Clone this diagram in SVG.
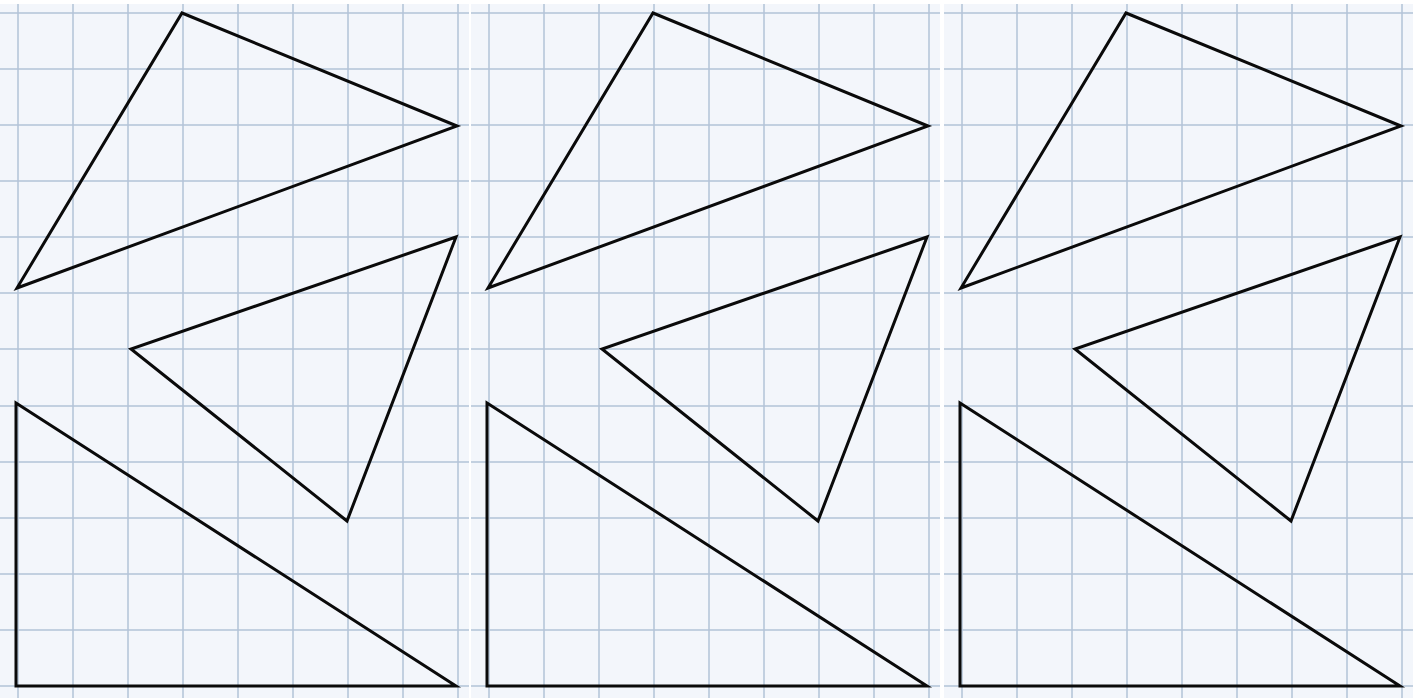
<svg xmlns="http://www.w3.org/2000/svg" xmlns:xlink="http://www.w3.org/1999/xlink" width="1419" height="698" viewBox="0 0 1419 698">
<style>
.paper{fill:#f3f6fb}
.grid{stroke:#b3c3d8;stroke-width:1.5;fill:none}
.tri{fill:none;stroke:#0a0a0a;stroke-width:3;stroke-linejoin:miter}
</style>
<defs>
<g id="panel">
<rect class="paper" x="0" y="4" width="469" height="694"/>
<path class="grid" d="M18,4V698M73,4V698M128,4V698M183,4V698M238,4V698M293,4V698M348,4V698M403,4V698M458,4V698
M0,13H469M0,69H469M0,125H469M0,181H469M0,237H469M0,293H469M0,349H469M0,406H469M0,462H469M0,518H469M0,574H469M0,630H469M0,686H469"/>
<polygon class="tri" points="182,13 457,126 17,288"/>
<polygon class="tri" points="456,237 131,349 347,521"/>
<polygon class="tri" points="16,403 16,686 456,686"/>
</g>
</defs>
<rect x="0" y="0" width="1419" height="698" fill="#ffffff"/>
<g id="panel1"><use xlink:href="#panel"/></g>
<g id="panel2"><use xlink:href="#panel" transform="translate(471,0)"/></g>
<g id="panel3"><use xlink:href="#panel" transform="translate(944,0)"/></g>
</svg>
